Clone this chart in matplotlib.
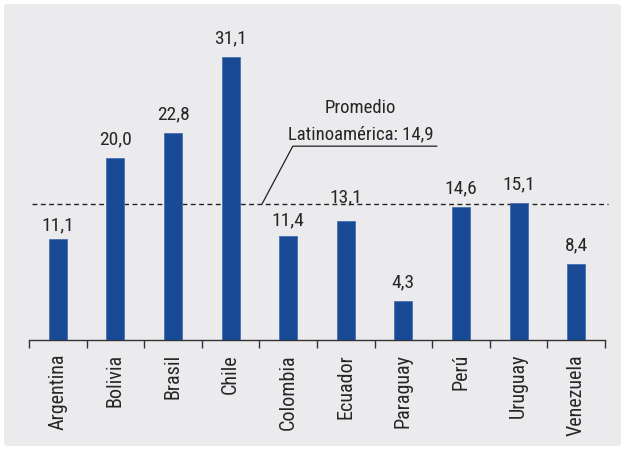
import matplotlib
matplotlib.use("Agg")
import matplotlib.pyplot as plt
from matplotlib import font_manager
from matplotlib.patches import FancyBboxPatch

# Data
paises = ["Argentina", "Bolivia", "Brasil", "Chile", "Colombia",
          "Ecuador", "Paraguay", "Perú", "Uruguay", "Venezuela"]
valores = [11.1, 20.0, 22.8, 31.1, 11.4, 13.1, 4.3, 14.6, 15.1, 8.4]
promedio = 14.9

# Pick a narrow family when one is installed
installed = {f.name for f in font_manager.fontManager.ttflist}
family = "DejaVu Sans"
for cand in ["Liberation Sans Narrow", "Roboto Condensed", "Open Sans Condensed", "Roboto"]:
    if cand in installed:
        family = cand
        break
plt.rcParams["font.family"] = [family, "DejaVu Sans"]

bar_color = "#184a96"
txt_color = "#262626"

fig = plt.figure(figsize=(6.25, 4.49), dpi=100)
fig.patch.set_facecolor("white")

# Gray rounded panel behind the chart
W, H = 625, 449
panel = FancyBboxPatch((4 / W, 3 / H), 617 / W, 442 / H,
                       boxstyle="round,pad=0,rounding_size=0.006",
                       transform=fig.transFigure, facecolor="#ebebee",
                       edgecolor="none", zorder=-10)
fig.add_artist(panel)

px = 9.1  # pixels per unit on the y axis
ax = fig.add_axes([29 / W, 109 / H, 576 / W, 34 * px / H])
ax.set_facecolor("none")
ax.set_zorder(5)

x = list(range(len(paises)))
ax.bar(x, valores, width=0.31, color=bar_color, edgecolor="#4a6fb0",
       linewidth=0.6, zorder=3)

# value labels; a few get nudged to keep clear of the dashed line
gap = {0: 9, 4: 11, 5: 18}
for xi, v in zip(x, valores):
    ax.text(xi, v + gap.get(xi, 13.5) / px, f"{v:.1f}".replace(".", ","),
            ha="center", va="baseline", fontsize=14, color=txt_color)

# Regional average
ax.plot([-0.45, 9.55], [promedio, promedio], linestyle=(0, (3.5, 2.5)),
        color="#222222", linewidth=1.0, zorder=2, clip_on=False)
ax.text(5.26, 24.05, "Promedio\nLatinoamérica: 14,9", ha="center", va="center",
        fontsize=13.5, color=txt_color, linespacing=1.6)
ax.plot([6.58, 4.08, 3.55], [21.3, 21.3, promedio + 0.1], color="#222222",
        linewidth=0.9, zorder=2)

ax.set_xlim(-0.5, 9.5)
ax.set_ylim(0, 34)
for s in ["top", "right", "left"]:
    ax.spines[s].set_visible(False)
ax.spines["bottom"].set_color("#333333")
ax.spines["bottom"].set_linewidth(1.0)
ax.set_yticks([])

# Ticks at category boundaries, labels at centers
ax.set_xticks([i - 0.5 for i in range(len(paises) + 1)])
ax.set_xticklabels([])
ax.tick_params(axis="x", which="major", direction="out", length=6,
               width=1.0, color="#333333")
ax.set_xticks(x, minor=True)
ax.set_xticklabels(paises, minor=True, rotation=90, fontsize=14.5,
                   color=txt_color, va="top", ha="center")
ax.tick_params(axis="x", which="minor", length=0, pad=10)

fig.savefig("out.png", dpi=100, facecolor=fig.get_facecolor())
